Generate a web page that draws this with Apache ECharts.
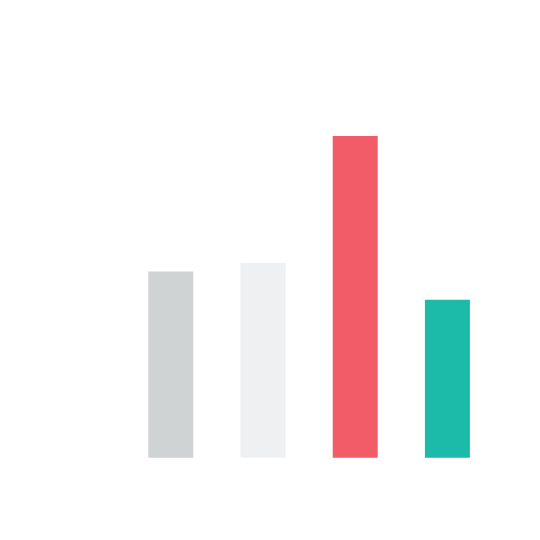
<!DOCTYPE html>
<html>
<head>
<meta charset="utf-8">
<script src="https://cdn.jsdelivr.net/npm/echarts@6/dist/echarts.min.js"></script>
<style>html,body{margin:0;padding:0;background:#fff}#c{width:540px;height:540px}</style>
</head>
<body>
<div id="c"></div>
<script>
const categories = ['A', 'B', 'C', 'D'];
const values = [44.6, 46.6, 77.0, 37.8];
const barColors = ['#cfd3d3', '#eff0f1', '#f25c69', '#1cbaa8'];

const chart = echarts.init(document.getElementById('c'), null, {renderer: 'canvas'});
chart.setOption({
  animation: false,
  backgroundColor: '#ffffff',
  grid: {left: 124.7, right: 46.5, top: 40, bottom: 82.3, containLabel: false},
  xAxis: {
    type: 'category', data: categories,
    axisLine: {show: false}, axisTick: {show: false}, axisLabel: {show: false}, splitLine: {show: false}
  },
  yAxis: {
    type: 'value', min: 0, max: 100,
    axisLine: {show: false}, axisTick: {show: false}, axisLabel: {show: false}, splitLine: {show: false}
  },
  series: [{
    type: 'bar', barWidth: 45,
    data: values.map((v, i) => ({value: v, itemStyle: {color: barColors[i]}}))
  }]
});
</script>
</body>
</html>
